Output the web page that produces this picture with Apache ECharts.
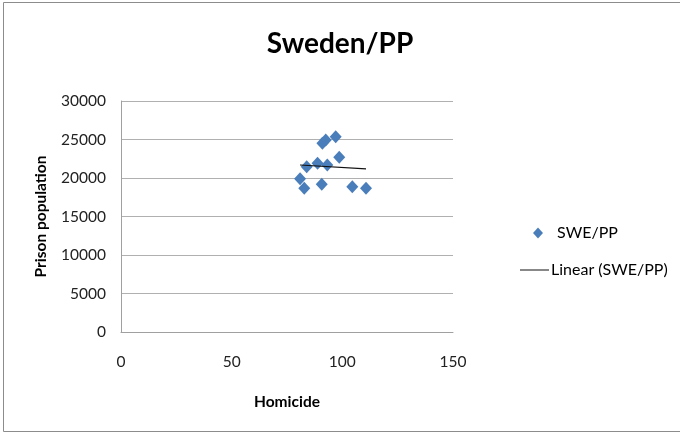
<!DOCTYPE html>
<html><head><meta charset="utf-8">
<script src="https://cdn.jsdelivr.net/npm/echarts@6/dist/echarts.min.js"></script>
<style>html,body{margin:0;padding:0;background:#fff}#c{width:680px;height:432px}</style>
</head><body><div id="c"></div>
<script>
// Data
const homicide = [80.9, 82.8, 83.9, 88.8, 93.2, 90.7, 91.0, 92.5, 97.0, 98.6, 104.5, 110.7];
const prisonPop = [19900, 18680, 21470, 21910, 21690, 19190, 24510, 24940, 25370, 22690, 18870, 18660];
const xTicks = [0, 50, 100, 150];
const yTicks = [0, 5000, 10000, 15000, 20000, 25000, 30000];
const seriesName = 'SWE/PP';
const trendName = 'Linear (SWE/PP)';

const points = homicide.map((x, i) => [x, prisonPop[i]]);
// least-squares linear trend
const n = homicide.length;
const mx = homicide.reduce((a, b) => a + b, 0) / n;
const my = prisonPop.reduce((a, b) => a + b, 0) / n;
let sxy = 0, sxx = 0;
for (let i = 0; i < n; i++) { sxy += (homicide[i] - mx) * (prisonPop[i] - my); sxx += (homicide[i] - mx) ** 2; }
const slope = sxy / sxx, icpt = my - slope * mx;
const xmin = Math.min(...homicide), xmax = Math.max(...homicide);
const trend = [[xmin, icpt + slope * xmin], [xmax, icpt + slope * xmax]];

const font = 'Lato, "Open Sans", sans-serif';
const chart = echarts.init(document.getElementById('c'), null, {renderer: 'canvas'});
chart.setOption({
  animation: false,
  backgroundColor: '#fff',
  graphic: [{type: 'rect', left: 1, top: 0, shape: {x: 0, y: 0, width: 677, height: 429}, style: {fill: 'none', stroke: '#8c8c8c', lineWidth: 1}, silent: true}],
  title: {text: 'Sweden/PP', left: 'center', top: 25, itemGap: 0,
    textStyle: {fontFamily: font, fontSize: 28, fontWeight: 'bold', color: '#000'}},
  grid: {left: 121, right: 227, top: 101, bottom: 100, containLabel: false},
  legend: [
    {data: [seriesName], orient: 'vertical', left: 528, top: 220, itemWidth: 10, itemHeight: 11, icon: 'diamond',
      itemStyle: {opacity: 1},
      textStyle: {fontFamily: font, fontSize: 16, color: '#000', padding: [0, 0, 0, 9]}},
    {data: [{name: trendName, icon: 'rect'}], orient: 'vertical', left: 515, top: 257, itemWidth: 29, itemHeight: 1,
      textStyle: {fontFamily: font, fontSize: 16, color: '#000', padding: [0, 0, 0, -3]}}
  ],
  xAxis: {type: 'value', min: xTicks[0], max: xTicks[xTicks.length - 1], interval: 50,
    name: 'Homicide', nameLocation: 'middle', nameGap: 62,
    nameTextStyle: {fontFamily: font, fontSize: 15.5, fontWeight: 'bold', color: '#000'},
    axisLine: {show: true, lineStyle: {color: '#a0a0a0', width: 1}},
    axisTick: {show: false},
    axisLabel: {margin: 22, fontFamily: font, fontSize: 15.5, color: '#222'},
    splitLine: {show: false}},
  yAxis: {type: 'value', min: yTicks[0], max: yTicks[yTicks.length - 1], interval: 5000,
    name: 'Prison population', nameLocation: 'middle', nameGap: 72,
    nameTextStyle: {fontFamily: font, fontSize: 15.5, fontWeight: 'bold', color: '#000'},
    axisLine: {show: true, lineStyle: {color: '#a0a0a0', width: 1}},
    axisTick: {show: false},
    axisLabel: {margin: 15, fontFamily: font, fontSize: 15.5, color: '#222', formatter: v => String(v)},
    splitLine: {show: true, lineStyle: {color: '#b0b0b0', width: 1}}},
  series: [
    {name: seriesName, type: 'scatter', data: points, symbol: 'diamond', symbolSize: [12, 13],
      itemStyle: {color: '#4A7EBB', opacity: 1}, z: 3},
    {name: trendName, type: 'line', data: trend, symbol: 'none', showSymbol: false,
      lineStyle: {color: '#111', width: 1.2}, itemStyle: {color: '#111'}, z: 4}
  ]
});
</script></body></html>
